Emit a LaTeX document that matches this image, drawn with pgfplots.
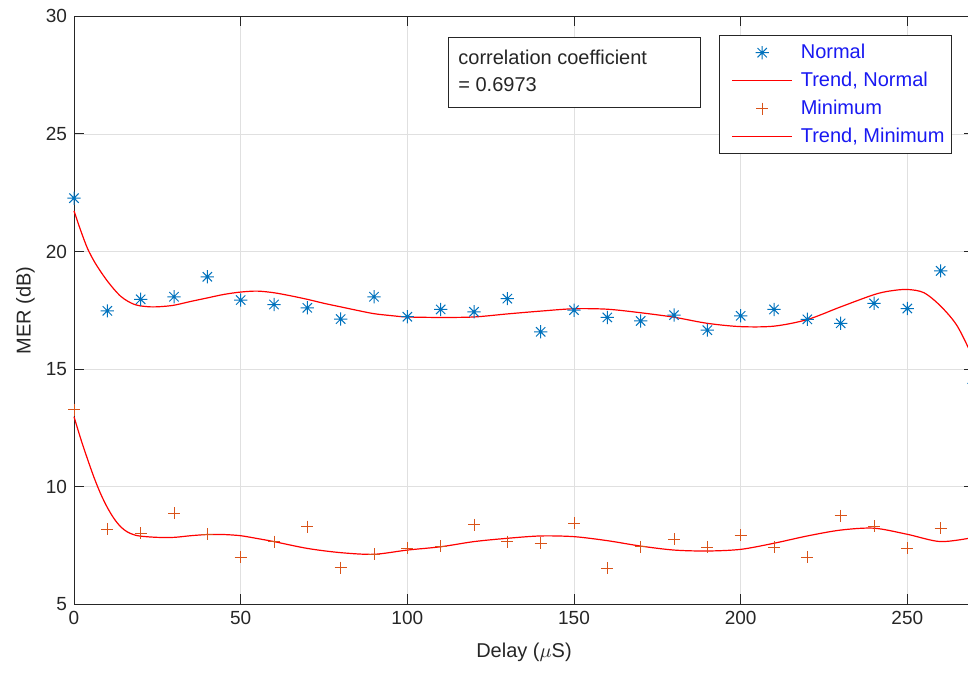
\documentclass[border=0pt]{standalone}
\usepackage{pgfplots}
\pgfplotsset{compat=1.18}
\usepackage{fontspec}
\setmainfont{Liberation Sans}
\definecolor{mblue}{rgb}{0,0.447,0.741}
\definecolor{morange}{rgb}{0.85,0.325,0.098}
\definecolor{axgray}{rgb}{0.15,0.15,0.15}
\definecolor{leg}{rgb}{0.1,0.1,0.95}
\pgfdeclareplotmark{mstar}{%
  \pgfpathmoveto{\pgfqpoint{0pt}{\pgfplotmarksize}}\pgfpathlineto{\pgfqpoint{0pt}{-\pgfplotmarksize}}%
  \pgfpathmoveto{\pgfqpoint{\pgfplotmarksize}{0pt}}\pgfpathlineto{\pgfqpoint{-\pgfplotmarksize}{0pt}}%
  \pgfpathmoveto{\pgfqpoint{0.707\pgfplotmarksize}{0.707\pgfplotmarksize}}\pgfpathlineto{\pgfqpoint{-0.707\pgfplotmarksize}{-0.707\pgfplotmarksize}}%
  \pgfpathmoveto{\pgfqpoint{-0.707\pgfplotmarksize}{0.707\pgfplotmarksize}}\pgfpathlineto{\pgfqpoint{0.707\pgfplotmarksize}{-0.707\pgfplotmarksize}}%
  \pgfusepathqstroke}
\begin{document}
\begin{tikzpicture}
\path[use as bounding box] (-37pt,-34.35pt) rectangle (447pt,302.2pt);
\begin{axis}[
  at={(0,0)}, anchor=south west,
  scale only axis, width=450pt, height=294pt,
  xmin=0, xmax=270, ymin=5, ymax=30,
  xtick={0,50,...,250}, ytick={5,10,...,30},
  tick align=inside, major tick length=5pt,
  grid=major, major grid style={line width=0.4pt, draw=black!12},
  axis line style={axgray, line width=0.5pt},
  tick style={axgray, line width=0.5pt},
  ticklabel style={font=\fontsize{9.5}{11}\selectfont, text=axgray},
  /pgf/number format/assume math mode=true,
  every axis x label/.style={at={(axis description cs:0.5,-0.082)},anchor=center},
  every axis y label/.style={at={(axis description cs:-0.054,0.5)},rotate=90,anchor=center},
  label style={font=\fontsize{10}{12}\selectfont, text=axgray},
  xlabel={Delay ($\mu$S)}, ylabel={MER (dB)},
  legend image code/.code={\path (-3pt,0pt) (33.5pt,0pt); \draw[mark repeat=2,mark phase=2,#1] plot coordinates {(0pt,0pt) (15pt,0pt) (30pt,0pt)};},
  legend style={at={(rel axis cs:0.9756,0.968)}, anchor=north east,
    font=\fontsize{10}{12}\selectfont, text=leg, draw=axgray, line width=0.5pt,
    inner xsep=3pt, inner ysep=1.5pt, row sep=0pt,
    nodes={inner xsep=0.5pt, inner ysep=1pt, text height=9pt, text depth=3pt}},
  legend cell align=left,
  clip=false,
]
\addplot[only marks, mark=mstar, mark size=3.3pt, mblue, line width=0.5pt] coordinates {
(0,22.27) (10,17.48) (20,17.97) (30,18.08) (40,18.93) (50,17.94) (60,17.75) (70,17.61)
(80,17.13) (90,18.08) (100,17.23) (110,17.54) (120,17.44) (130,18.0) (140,16.59) (150,17.51)
(160,17.2) (170,17.05) (180,17.3) (190,16.66) (200,17.27) (210,17.54) (220,17.12) (230,16.95)
(240,17.8) (250,17.58) (260,19.18) (270,14.4)};
\addlegendentry{Normal}
\addplot[red, line width=0.6pt, smooth, no marks] coordinates {
(0,21.73) (2,20.9) (4,20.15) (6,19.6) (8,19.15) (10,18.75) (12,18.4) (14,18.1) (16,17.9)
(18,17.76) (20,17.69) (23,17.65) (26,17.66) (30,17.72) (35,17.88) (40,18.03) (45,18.18) (50,18.28) (55,18.32) (60,18.25)
(65,18.12) (70,17.97) (75,17.8) (80,17.65) (85,17.5) (90,17.36) (95,17.28) (100,17.22)
(110,17.2) (120,17.22) (130,17.35) (140,17.47) (150,17.57) (160,17.55) (170,17.4) (180,17.21)
(190,16.95) (200,16.81) (210,16.83) (220,17.11) (230,17.65) (240,18.17) (245,18.33) (250,18.39)
(255,18.25) (260,17.68) (265,16.83) (270,15.4)};
\addlegendentry{Trend, Normal}
\addplot[only marks, mark=+, mark size=3pt, morange, line width=0.5pt] coordinates {
(0,13.27) (10,8.19) (20,8.02) (30,8.88) (40,7.98) (50,7.0) (60,7.67) (70,8.31) (80,6.56)
(90,7.13) (100,7.38) (110,7.48) (120,8.38) (130,7.67) (140,7.6) (150,8.45) (160,6.53)
(170,7.45) (180,7.77) (190,7.43) (200,7.95) (210,7.43) (220,7.0) (230,8.76) (240,8.33)
(250,7.38) (260,8.24)};
\addlegendentry{Minimum}
\addplot[red, line width=0.6pt, smooth, no marks] coordinates {
(0,12.98) (2,12.05) (4,11.2) (6,10.4) (8,9.7) (10,9.12) (12,8.65) (14,8.3) (16,8.08) (18,7.96) (20,7.9)
(25,7.85) (30,7.85) (35,7.92) (40,7.97) (45,7.97) (50,7.92) (55,7.8) (60,7.67) (70,7.38)
(80,7.2) (90,7.13) (100,7.31) (110,7.45) (120,7.67) (130,7.81) (140,7.91) (150,7.88)
(160,7.71) (170,7.48) (180,7.31) (190,7.27) (200,7.34) (210,7.6) (220,7.91) (230,8.16)
(240,8.24) (250,7.98) (260,7.67) (270,7.85)};
\addlegendentry{Trend, Minimum}
\draw[axgray, line width=0.5pt, fill=white] (axis cs:112.2,26.14) rectangle (axis cs:187.8,29.12);
\node[anchor=north west, align=left, inner sep=0pt, font=\fontsize{10}{13.5}\selectfont, text=axgray]
  at ([xshift=5pt,yshift=-6.5pt]axis cs:112.2,29.12) {correlation coefficient\\= 0.6973};
\end{axis}
\end{tikzpicture}
\end{document}
